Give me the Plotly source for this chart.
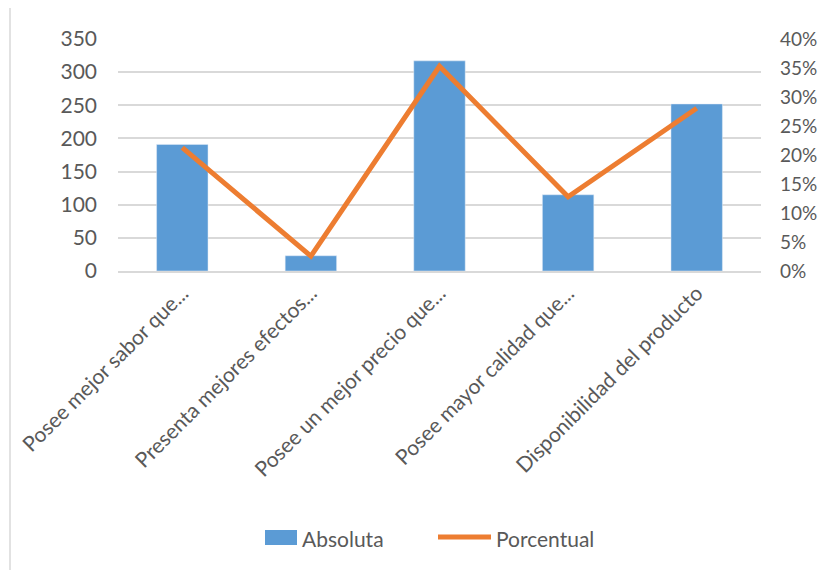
import plotly.graph_objects as go

categories = ["Posee mejor sabor que...", "Presenta mejores efectos...", "Posee un mejor precio que...",
              "Posee mayor calidad que...", "Disponibilidad del producto"]
absoluta = [191, 23, 317, 115, 252]
total = sum(absoluta)
porcentual = [v / total for v in absoluta]

left_ticks = [0, 50, 100, 150, 200, 250, 300, 350]
right_ticks = [0, 0.05, 0.10, 0.15, 0.20, 0.25, 0.30, 0.35, 0.40]
right_labels = ["0%", "5%", "10%", "15%", "20%", "25%", "30%", "35%", "40%"]

FONT = "Lato, Carlito, 'Liberation Sans Narrow', sans-serif"
GRAY = "#595959"
BLUE = "#5b9bd5"
ORANGE = "#ed7d31"
FS = 21

# page body has 8px margin; work in reference pixel coords, shifted by OFF
OFF = 8
W, H = 828 - OFF, 570 - OFF
L, R, T, B = 118 - OFF, 761 - OFF, 39 - OFF, 271 - OFF

def px(x):
    return (x - OFF - L) / (R - L)
def py(y):
    return (B - (y - OFF)) / (B - T)

fig = go.Figure()
fig.add_trace(go.Bar(x=categories, y=absoluta, name="Absoluta", marker_color=BLUE,
                     width=0.4, yaxis="y"))
fig.add_trace(go.Scatter(x=categories, y=porcentual, name="Porcentual", mode="lines",
                         line=dict(color=ORANGE, width=5), yaxis="y2"))

shapes = [
    dict(type="line", xref="paper", yref="paper", x0=px(10), x1=px(10), y0=py(575), y1=py(0),
         line=dict(color="#d9d9d9", width=1.5)),
    dict(type="rect", xref="paper", yref="paper", x0=px(265), x1=px(297), y0=py(545), y1=py(530),
         fillcolor=BLUE, line=dict(width=0)),
    dict(type="line", xref="paper", yref="paper", x0=px(438), x1=px(491), y0=py(537), y1=py(537),
         line=dict(color=ORANGE, width=5)),
]
annotations = [
    dict(text="Absoluta", xref="paper", yref="paper", x=px(300), y=py(538), xanchor="left",
         yanchor="middle", showarrow=False, font=dict(size=FS, color=GRAY)),
    dict(text="Porcentual", xref="paper", yref="paper", x=px(494), y=py(538), xanchor="left",
         yanchor="middle", showarrow=False, font=dict(size=FS, color=GRAY)),
]

fig.update_layout(
    width=W, height=H,
    margin=dict(l=L, r=W - R, t=T, b=H - B, autoexpand=False),
    paper_bgcolor="white", plot_bgcolor="white",
    font=dict(family=FONT, color=GRAY, size=FS),
    showlegend=False,
    xaxis=dict(tickangle=-45, showgrid=False, showline=True, linecolor="#d9d9d9", linewidth=1.5,
               tickfont=dict(size=FS, color=GRAY), ticks="", automargin=False),
    yaxis=dict(range=[0, 350], tickvals=left_ticks, showgrid=True, gridcolor="#d9d9d9",
               gridwidth=1.5, zeroline=False, tickfont=dict(size=FS, color=GRAY), ticks="",
               ticklabelstandoff=20, automargin=False),
    yaxis2=dict(range=[0, 0.40], tickvals=right_ticks, ticktext=right_labels, overlaying="y",
                side="right", showgrid=False, zeroline=False, automargin=False,
                tickfont=dict(size=19, color=GRAY), ticks="", ticklabelstandoff=18),
    bargap=0.6,
    shapes=shapes,
    annotations=annotations,
)

fig.write_html("out.html")
